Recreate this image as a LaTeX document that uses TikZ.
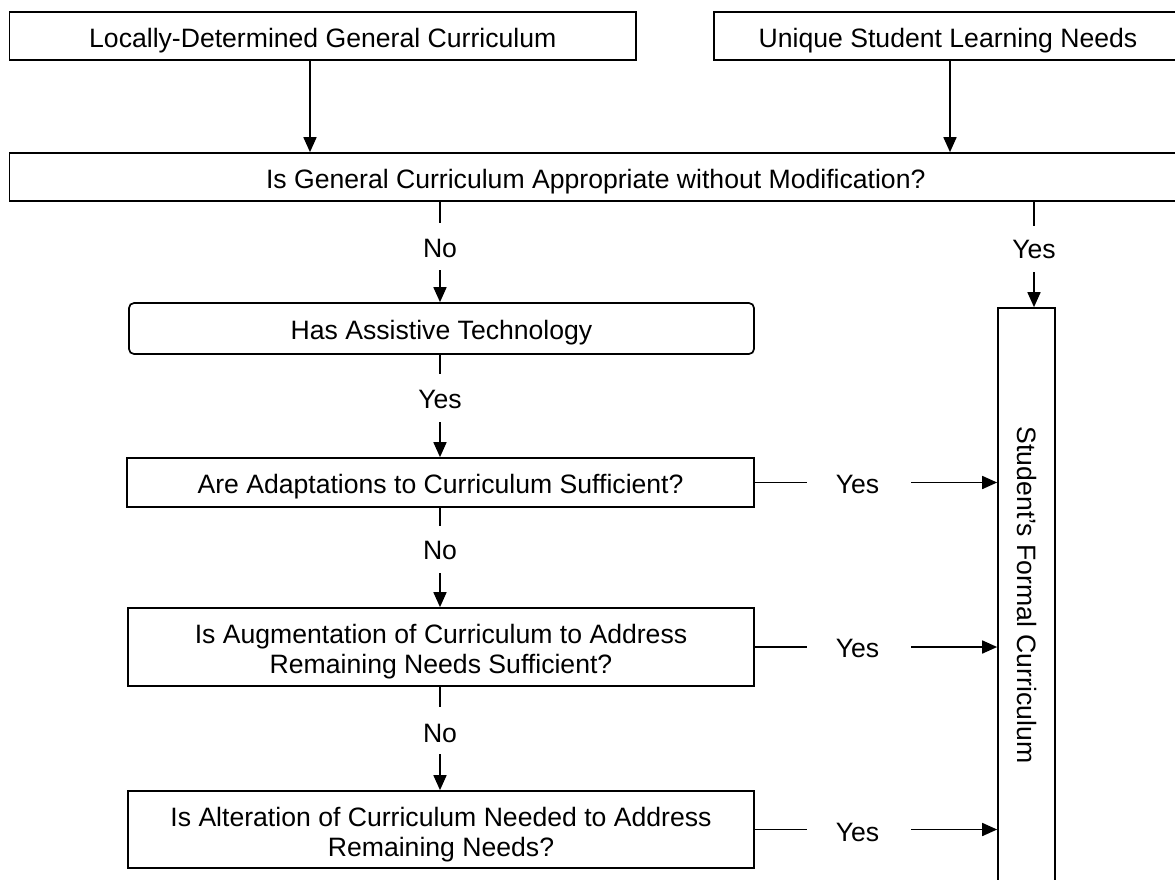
\documentclass[tikz,border=0pt]{standalone}
\usepackage{fontspec}
\setmainfont{Liberation Sans}
\usepackage{graphicx}
\usetikzlibrary{arrows.meta,calc}
\newcommand\twoline[2]{\vbox{\halign{\hfil##\hfil\cr #1\cr #2\cr}}}
\begin{document}
\begin{tikzpicture}[x=1pt,y=-1pt,
  every node/.style={font=\fontsize{26.6pt}{30pt}\selectfont},
  frame/.style={draw, line width=1.7pt, inner sep=0pt},
  box/.style={frame, text height=22.8pt, text depth=0pt},
  boxtwo/.style={frame, text height=53.5pt, text depth=0pt},
  lab/.style={inner sep=0pt, text height=19.05pt, text depth=0pt},
  link/.style={line width=1.7pt},
  arr/.style={link, -{Triangle[width=13pt,length=15pt]}}]
\useasboundingbox (0,0) rectangle (1175,879);
\fill[white] (0,0) rectangle (1175,879);
\clip (0,0) rectangle (1175,879);

\node[box, minimum width=626.5pt, minimum height=48pt] (local) at (322.75,36) {Locally-Determined General Curriculum};
\node[box, minimum width=468pt, minimum height=48pt] (unique) at (948,36) {Unique Student Learning Needs};
\node[box, minimum width=1172.5pt, minimum height=48pt] (approp) at (595.75,177) {Is General Curriculum Appropriate without Modification?};
\node[box, rounded corners=5pt, minimum width=625pt, minimum height=51pt] (assist) at (441.5,328.5) {Has Assistive Technology};
\node[box, minimum width=627pt, minimum height=49pt] (adapt) at (440.5,482.5) {Are Adaptations to Curriculum Sufficient?};
\node[boxtwo, minimum width=626pt, minimum height=78pt] (augm) at (441,647) {\twoline{Is Augmentation of Curriculum to Address}{Remaining Needs Sufficient?}};
\node[boxtwo, minimum width=626pt, minimum height=77pt] (alter) at (441,829.5) {\twoline{Is Alteration of Curriculum Needed to Address}{Remaining Needs?}};
\node[frame, minimum width=57pt, minimum height=574pt] (formal) at (1026.5,595) {\rotatebox{-90}{Student’s Formal Curriculum}};

\node[lab] (n1) at (440,247.5) {No};
\node[lab] (y1) at (440,398.5) {Yes};
\node[lab] (n2) at (440,550.3) {No};
\node[lab] (n3) at (440,733) {No};
\node[lab] (yt) at (1034,249) {Yes};
\node[lab] (ya) at (857.5,484) {Yes};
\node[lab] (yb) at (857.5,648) {Yes};
\node[lab] (yc) at (857.5,832) {Yes};

\coordinate (c1) at (310,0);
\coordinate (c2) at (950,0);
\draw[arr] (local.south -| c1) -- (approp.north -| c1);
\draw[arr] (unique.south -| c2) -- (approp.north -| c2);

\draw[link] (approp.south -| n1) -- ++(0,21);
\draw[arr] ($(n1.center)+(0,22.5)$) -- (assist.north -| n1);
\draw[link] (assist.south -| y1) -- ++(0,19);
\draw[arr] ($(y1.center)+(0,23.5)$) -- (adapt.north -| y1);
\draw[link] (adapt.south -| n2) -- ++(0,18);
\draw[arr] ($(n2.center)+(0,22.7)$) -- (augm.north -| n2);
\draw[link] (augm.south -| n3) -- ++(0,20);
\draw[arr] ($(n3.center)+(0,21)$) -- (alter.north -| n3);
\draw[link] (approp.south -| yt) -- ++(0,24);
\draw[arr] ($(yt.center)+(0,23)$) -- (formal.north -| yt);

\draw[link] (adapt.east) -- ++(52,0);
\draw[arr] ($(adapt.east -| ya.center)+(53.5,0)$) -- (adapt.east -| formal.west);
\draw[link] (augm.east) -- ++(52,0);
\draw[arr] ($(augm.east -| yb.center)+(53.5,0)$) -- (augm.east -| formal.west);
\draw[link] (alter.east) -- ++(52,0);
\draw[arr] ($(alter.east -| yc.center)+(53.5,0)$) -- (alter.east -| formal.west);
\end{tikzpicture}
\end{document}
